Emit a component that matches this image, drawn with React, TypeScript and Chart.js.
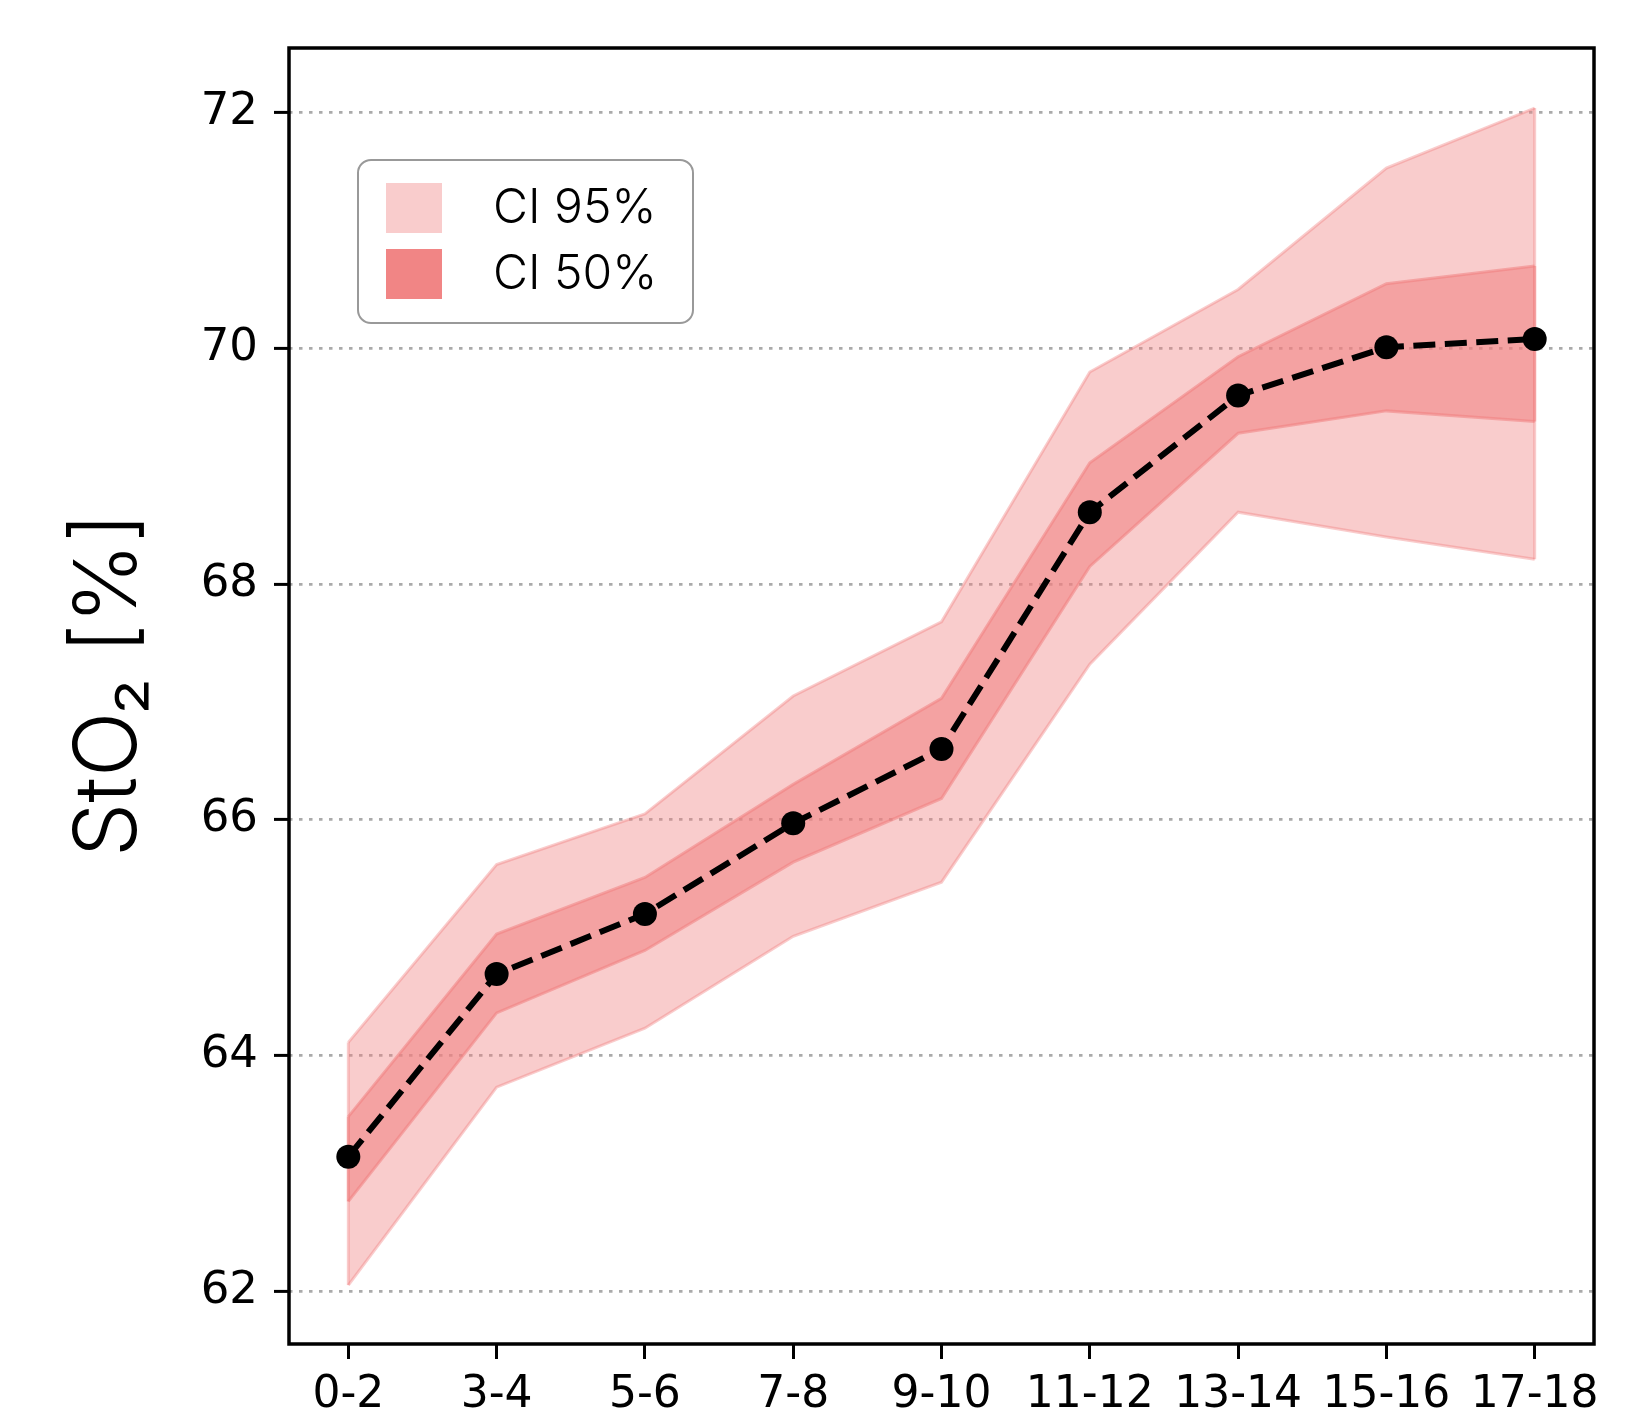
import React, { useEffect, useRef } from "react";
import { Chart, registerables } from "chart.js";

Chart.register(...registerables);

// ---- data ----
const ageGroups = ["0-2", "3-4", "5-6", "7-8", "9-10", "11-12", "13-14", "15-16", "17-18"];
const meanStO2 = [63.14, 64.69, 65.2, 65.97, 66.6, 68.61, 69.6, 70.01, 70.08];
const ci95Upper = [64.11, 65.62, 66.05, 67.05, 67.68, 69.8, 70.5, 71.53, 72.04];
const ci95Lower = [62.05, 63.73, 64.23, 65.01, 65.47, 67.32, 68.61, 68.4, 68.21];
const ci50Upper = [63.48, 65.03, 65.51, 66.3, 67.03, 69.03, 69.93, 70.55, 70.7];
const ci50Lower = [62.76, 64.36, 64.89, 65.64, 66.18, 68.15, 69.28, 69.47, 69.38];
const yTickValues = [62, 64, 66, 68, 70, 72];
const legendLabels = ["CI 95%", "CI 50%"];
const yAxisTitle = "StO\u2082 [%]";

// ---- styles ----
const CI95_FILL = "rgba(240,128,128,0.4)";
const CI50_FILL = "rgba(240,128,128,0.55)";
const CI95_SWATCH = "rgba(240,128,128,0.4)";
const CI50_SWATCH = "#f18585";
const TEXT_FONT = "Inter, Lato, 'Noto Sans', sans-serif";
const TICK_FONT = "'DejaVu Sans', sans-serif";

const toPoints = (arr: number[]) => arr.map((y, i) => ({ x: i, y }));

const framePlugin = {
  id: "frameAndLegend",
  afterDatasetDraw(chart: any, args: any) {
    if (args.index !== 1) return;
    const { ctx } = chart;
    const xs = chart.scales.x;
    const ys = chart.scales.y;
    const ends = [0, ageGroups.length - 1];
    ctx.save();
    ctx.lineWidth = 3;
    for (const i of ends) {
      const px = xs.getPixelForValue(i);
      ctx.strokeStyle = CI95_FILL;
      ctx.beginPath();
      ctx.moveTo(px, ys.getPixelForValue(ci95Lower[i]));
      ctx.lineTo(px, ys.getPixelForValue(ci95Upper[i]));
      ctx.stroke();
      ctx.strokeStyle = CI50_FILL;
      ctx.beginPath();
      ctx.moveTo(px, ys.getPixelForValue(ci50Lower[i]));
      ctx.lineTo(px, ys.getPixelForValue(ci50Upper[i]));
      ctx.stroke();
    }
    ctx.restore();
  },
  afterDraw(chart: any) {
    const { ctx } = chart;
    const { left, top, right, bottom } = chart.chartArea;
    ctx.save();
    ctx.strokeStyle = "#000";
    ctx.lineWidth = 3.5;
    ctx.strokeRect(left, top, right - left, bottom - top);

    // y axis title
    ctx.save();
    ctx.translate(110, (top + bottom) / 2 - 11);
    ctx.rotate(-Math.PI / 2);
    ctx.font = `300 86px ${TEXT_FONT}`;
    ctx.fillStyle = "#000";
    ctx.textAlign = "center";
    ctx.textBaseline = "middle";
    ctx.fillText(yAxisTitle, 0, 0);
    ctx.restore();

    // legend
    const bx = left + 69;
    const by = top + 112;
    const bw = 335;
    const bh = 163;
    ctx.beginPath();
    (ctx as any).roundRect(bx, by, bw, bh, 13);
    ctx.fillStyle = "rgba(255,255,255,0.8)";
    ctx.fill();
    ctx.strokeStyle = "#999999";
    ctx.lineWidth = 2;
    ctx.stroke();

    const swatchColors = [CI95_SWATCH, CI50_SWATCH];
    const rowY = [by + 23, by + 89];
    ctx.font = `300 48px ${TEXT_FONT}`;
    ctx.textBaseline = "middle";
    ctx.textAlign = "left";
    legendLabels.forEach((label, i) => {
      ctx.fillStyle = swatchColors[i];
      ctx.fillRect(bx + 28, rowY[i], 56, 50);
      ctx.fillStyle = "#000";
      ctx.fillText(label, bx + 135, rowY[i] + 26);
    });
    ctx.restore();
  },
};

export default function App() {
  const canvasRef = useRef<HTMLCanvasElement | null>(null);

  useEffect(() => {
    if (!canvasRef.current) return;
    const chart = new Chart(canvasRef.current, {
      type: "line",
      data: {
        datasets: [
          {
            label: "mean",
            data: toPoints(meanStO2),
            borderColor: "#000",
            borderWidth: 6,
            borderDash: [22, 9.5],
            pointRadius: 12,
            pointBackgroundColor: "#000",
            pointBorderWidth: 0,
            fill: false,
            tension: 0,
          },
          {
            label: "CI 50% upper",
            data: toPoints(ci50Upper),
            borderColor: CI50_FILL,
            backgroundColor: CI50_FILL,
            borderWidth: 3,
            pointRadius: 0,
            fill: "+1",
            tension: 0,
          },
          {
            label: "CI 50% lower",
            data: toPoints(ci50Lower),
            borderColor: CI50_FILL,
            borderWidth: 3,
            pointRadius: 0,
            fill: false,
            tension: 0,
          },
          {
            label: "CI 95% upper",
            data: toPoints(ci95Upper),
            borderColor: CI95_FILL,
            backgroundColor: CI95_FILL,
            borderWidth: 3,
            pointRadius: 0,
            fill: "+1",
            tension: 0,
          },
          {
            label: "CI 95% lower",
            data: toPoints(ci95Lower),
            borderColor: CI95_FILL,
            borderWidth: 3,
            pointRadius: 0,
            fill: false,
            tension: 0,
          },
        ],
      },
      options: {
        animation: false,
        responsive: false,
        devicePixelRatio: 1,
        layout: { padding: { top: 48, right: 54, left: 0, bottom: 0 } },
        plugins: {
          legend: { display: false },
          tooltip: { enabled: false },
        },
        scales: {
          x: {
            type: "linear",
            min: -0.4,
            max: ageGroups.length - 1 + 0.4,
            afterBuildTicks: (scale: any) => {
              scale.ticks = ageGroups.map((_, i) => ({ value: i }));
            },
            afterFit: (scale: any) => {
              scale.height = 68;
            },
            ticks: {
              autoSkip: false,
              maxRotation: 0,
              minRotation: 0,
              padding: 10,
              color: "#000",
              font: { family: TICK_FONT, size: 44 },
              callback: (v: any) => ageGroups[Math.round(Number(v))] ?? "",
            },
            grid: {
              drawOnChartArea: false,
              drawTicks: true,
              tickLength: 15,
              tickWidth: 3,
              tickColor: "#000",
              color: "#000",
            },
            border: { display: false },
          },
          y: {
            type: "linear",
            min: 61.55,
            max: 72.55,
            afterBuildTicks: (scale: any) => {
              scale.ticks = yTickValues.map((v) => ({ value: v }));
            },
            afterFit: (scale: any) => {
              scale.width = 289;
            },
            ticks: {
              padding: 16,
              color: "#000",
              font: { family: TICK_FONT, size: 45 },
              callback: (v: any) => String(v),
            },
            grid: {
              drawOnChartArea: true,
              drawTicks: true,
              color: "#aaaaaa",
              lineWidth: 2.8,
              tickLength: 15,
              tickWidth: 3,
              tickColor: "#000",
              tickBorderDash: [],
            },
            border: { display: false, dash: [3.5, 6.5] },
            title: { display: false },
          },
        },
      },
      plugins: [framePlugin],
    } as any);
    return () => chart.destroy();
  }, []);

  return (
    <div style={{ position: "absolute", left: 0, top: 0, width: 1648, height: 1412, background: "#fff" }}>
      <canvas ref={canvasRef} width={1648} height={1412} />
    </div>
  );
}
